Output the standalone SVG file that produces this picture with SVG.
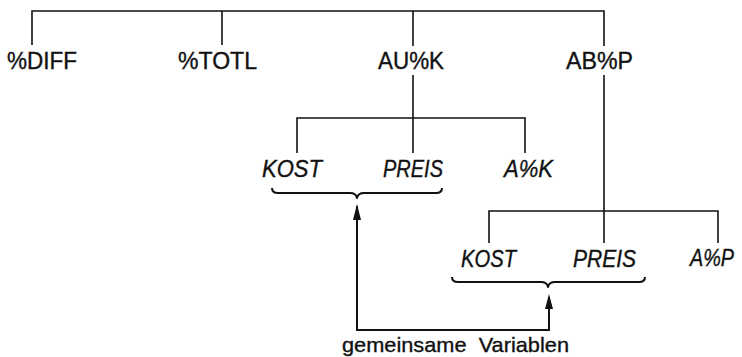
<svg xmlns="http://www.w3.org/2000/svg" width="742" height="357" viewBox="0 0 742 357">
<defs>
<style>
.t{font-family:"Liberation Sans",Arial,Helvetica,sans-serif;font-size:23px;fill:#111;stroke:#111;stroke-width:0.35}
.i{font-style:italic}
.ln{stroke:#111;stroke-width:1.6;fill:none}
.br{stroke:#111;stroke-width:2;fill:none;stroke-linejoin:round}
.ar{stroke:#111;stroke-width:2;fill:none}
</style>
</defs>
<rect width="742" height="357" fill="#fff"/>
<g id="connectors">
<path class="ln" d="M32,45 V11 H604 V46 M222,11 V45 M413,11 V46"/>
<path class="ln" d="M413,75 V153 M297,153 V118 H525 V153"/>
<path class="ln" d="M604,75 V243 M489,243 V211 H718 V243"/>
<path class="br" d="M272,188 Q272,193 278,193 L350,193 Q356,193 357,198 Q358,193 364,193 L436,193 Q442,193 442,188"/>
<path class="br" d="M452,277 Q452,282 458,282 L541,282 Q547,282 548,287 Q549,282 555,282 L639,282 Q645,282 645,277"/>
<path class="ar" d="M357,206 V330 H549 V297"/>
<path d="M357,204 L361,220 L353,220 Z" fill="#111"/>
<path d="M549,294 L553,309 L545,309 Z" fill="#111"/>
</g>
<g id="n-diff"><text class="t" x="7" y="69" textLength="70" lengthAdjust="spacingAndGlyphs">%DIFF</text></g>
<g id="n-totl"><text class="t" x="178" y="69" textLength="79" lengthAdjust="spacingAndGlyphs">%TOTL</text></g>
<g id="n-auk"><text class="t" x="378" y="69" textLength="66" lengthAdjust="spacingAndGlyphs">AU%K</text></g>
<g id="n-abp"><text class="t" x="566" y="69" textLength="67" lengthAdjust="spacingAndGlyphs">AB%P</text></g>
<g id="n-kost1"><text class="t i" x="262" y="177" textLength="60" lengthAdjust="spacingAndGlyphs">KOST</text></g>
<g id="n-preis1"><text class="t i" x="383" y="177" textLength="60" lengthAdjust="spacingAndGlyphs">PREIS</text></g>
<g id="n-ak"><text class="t i" x="504" y="177" textLength="49" lengthAdjust="spacingAndGlyphs">A%K</text></g>
<g id="n-kost2"><text class="t i" x="461" y="267" textLength="55" lengthAdjust="spacingAndGlyphs">KOST</text></g>
<g id="n-preis2"><text class="t i" x="573" y="267" textLength="63" lengthAdjust="spacingAndGlyphs">PREIS</text></g>
<g id="n-ap"><text class="t i" x="690" y="266" textLength="44" lengthAdjust="spacingAndGlyphs">A%P</text></g>
<g id="n-gemeinsam"><text class="t" x="342" y="352" style="font-size:21px" xml:space="preserve" textLength="227" lengthAdjust="spacingAndGlyphs">gemeinsame  Variablen</text></g>
</svg>
